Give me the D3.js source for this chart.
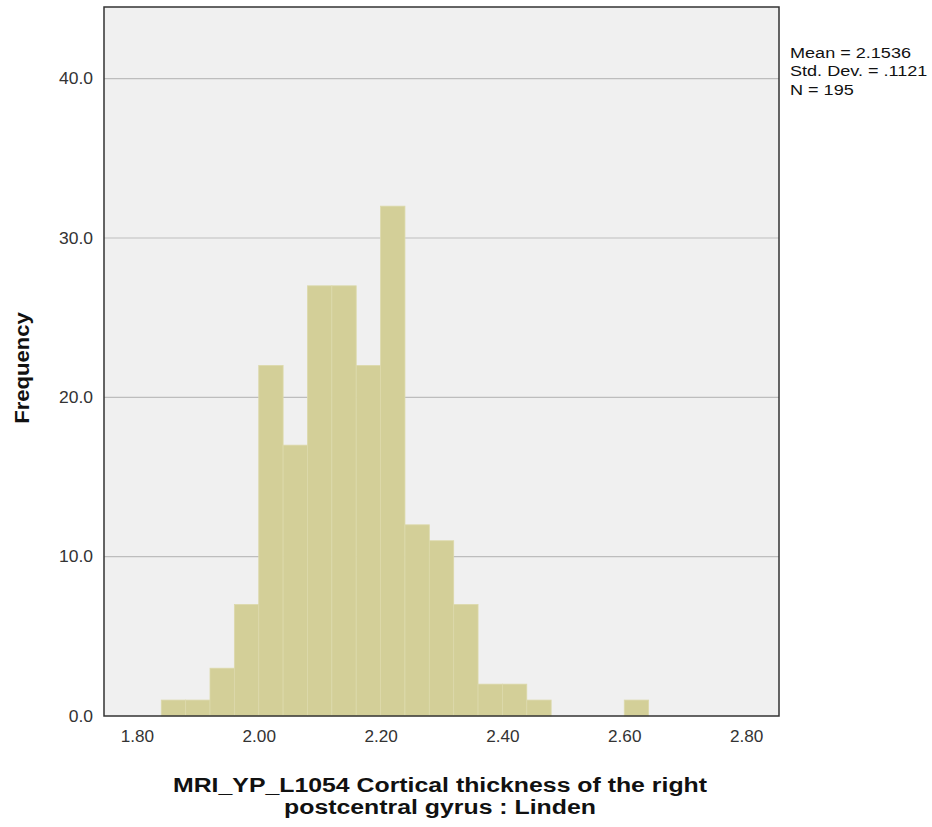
<!DOCTYPE html>
<html><head><meta charset="utf-8">
<script src="https://cdn.jsdelivr.net/npm/d3@7"></script>
<style>body{margin:0;background:#fff;} svg{display:block;font-family:"Liberation Sans",Arial,sans-serif;}</style>
</head><body>
<script>
const binStarts = [1.84,1.88,1.92,1.96,2.00,2.04,2.08,2.12,2.16,2.20,2.24,2.28,2.32,2.36,2.40,2.44,2.48,2.52,2.56,2.60];
const counts    = [1,1,3,7,22,17,27,27,22,32,12,11,7,2,2,1,0,0,0,1];
const binWidth = 0.04;
const xTicks = [1.80,2.00,2.20,2.40,2.60,2.80];
const yTicks = [0,10,20,30,40];
const statsLines = ["Mean = 2.1536","Std. Dev. = .1121","N = 195"];
const xTitle = ["MRI_YP_L1054 Cortical thickness of the right","postcentral gyrus : Linden"];
const yTitle = "Frequency";

const W=932,H=827;
const m={left:104,right:779,top:7,bottom:716};
const svg=d3.select("body").append("svg").attr("width",W).attr("height",H);
const x=d3.scaleLinear().domain([1.746,2.854]).range([m.left,m.right]);
const y=d3.scaleLinear().domain([0,44.5]).range([m.bottom,m.top]);

function stretch(sel, factor){
  sel.each(function(){
    const L=this.getComputedTextLength();
    d3.select(this).attr("textLength",L*factor).attr("lengthAdjust","spacingAndGlyphs");
  });
}

svg.append("rect").attr("x",m.left).attr("y",m.top).attr("width",m.right-m.left).attr("height",m.bottom-m.top).attr("fill","#f0f0f0");

svg.append("g").selectAll("line").data(yTicks.filter(d=>d>0)).join("line")
  .attr("x1",m.left).attr("x2",m.right).attr("y1",d=>y(d)).attr("y2",d=>y(d))
  .attr("stroke","#bdbdbd").attr("stroke-width",1.2);

const data=binStarts.map((s,i)=>({s,c:counts[i]})).filter(d=>d.c>0);
svg.append("g").selectAll("rect").data(data).join("rect")
  .attr("x",d=>x(d.s)).attr("width",d=>x(d.s+binWidth)-x(d.s))
  .attr("y",d=>y(d.c)).attr("height",d=>y(0)-y(d.c))
  .attr("fill","#d3cf98").attr("stroke","#dcd9ab").attr("stroke-width",0.8);

svg.append("rect").attr("x",m.left).attr("y",m.top).attr("width",m.right-m.left).attr("height",m.bottom-m.top)
  .attr("fill","none").attr("stroke","#333").attr("stroke-width",1.5);

const xa=svg.append("g").attr("transform",`translate(0,${m.bottom})`)
  .call(d3.axisBottom(x).tickValues(xTicks).tickFormat(d3.format(".2f")).tickSize(0).tickPadding(14));
xa.select(".domain").remove();
xa.selectAll("text").attr("font-size",16.5).attr("fill","#333").style("font-family","Liberation Sans, Arial, sans-serif");
stretch(xa.selectAll("text"),1.04);

const ya=svg.append("g").attr("transform",`translate(${m.left},0)`)
  .call(d3.axisLeft(y).tickValues(yTicks).tickFormat(d3.format(".1f")).tickSize(0).tickPadding(11));
ya.select(".domain").remove();
ya.selectAll("text").attr("font-size",16.5).attr("fill","#333").style("font-family","Liberation Sans, Arial, sans-serif");
stretch(ya.selectAll("text"),1.06);

const st=svg.append("g").selectAll("text").data(statsLines).join("text")
  .attr("x",790).attr("y",(d,i)=>57.5+i*18.5).attr("font-size",15.5).attr("fill","#111").text(d=>d);
stretch(st,1.165);

const xt=svg.append("g").selectAll("text").data(xTitle).join("text")
  .attr("x",440).attr("y",(d,i)=>792+i*22).attr("text-anchor","middle")
  .attr("font-size",19.5).attr("font-weight","bold").attr("fill","#111").text(d=>d);
{
  const L0=xt.nodes()[0].getComputedTextLength();
  stretch(xt,534/L0);
}

const yt=svg.append("text").attr("transform","translate(29,368) rotate(-90)").attr("text-anchor","middle")
  .attr("font-size",21).attr("font-weight","bold").attr("fill","#111").text(yTitle);
stretch(yt,1.05);
</script>
</body></html>
